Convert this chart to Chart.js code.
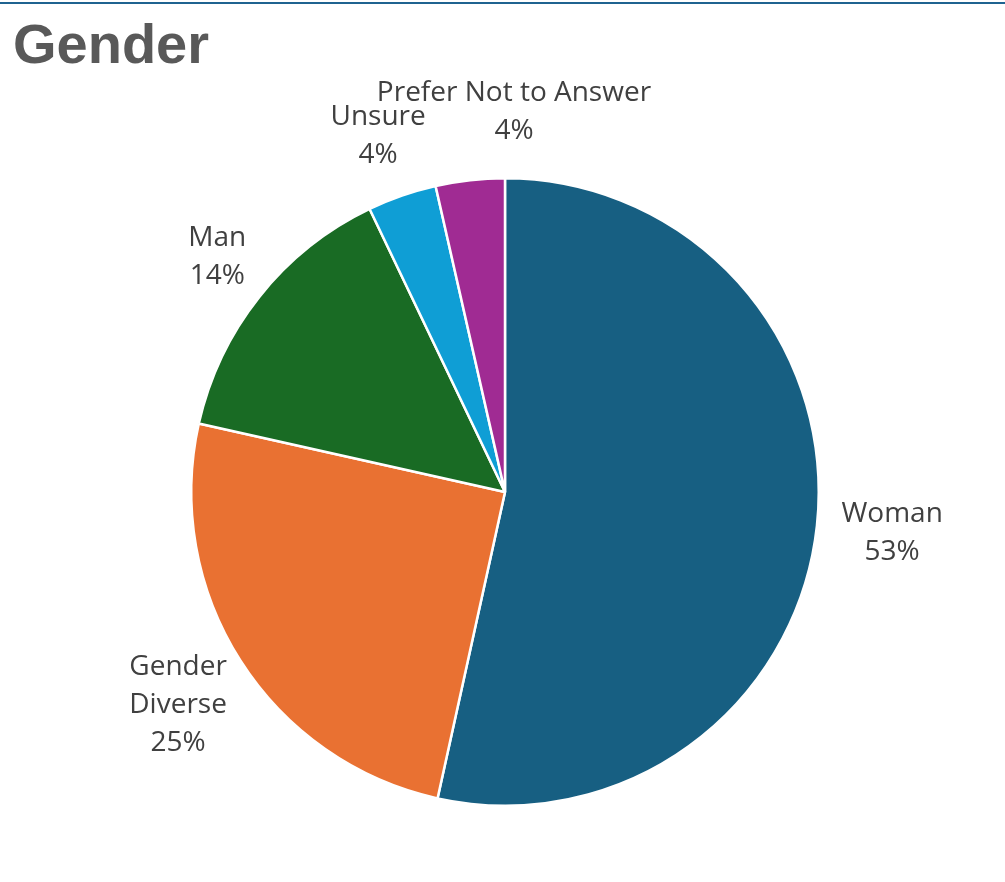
<!DOCTYPE html>
<html>
<head>
<meta charset="utf-8">
<script src="https://cdn.jsdelivr.net/npm/chart.js@4.4.1/dist/chart.umd.min.js"></script>
<style>
  body { margin: 0; background: #fff; }
  canvas { display: block; }
</style>
</head>
<body>
<canvas id="gender" width="1005" height="882"></canvas>
<script>
// slices, clockwise from 12 o'clock
const categories = ['Woman', ['Gender', 'Diverse'], 'Man', 'Unsure', 'Prefer Not to Answer'];
const shares = [53.45, 25.05, 14.4, 3.55, 3.55];
const colors = ['#175f82', '#e97132', '#196b24', '#0f9ed5', '#a02b93'];

// header: thin rule on top + chart title
const header = {
  id: 'header',
  afterDraw(chart) {
    const c = chart.ctx;
    c.save();
    c.fillStyle = '#1f6390';
    c.fillRect(0, 2, chart.width, 2);
    c.font = 'bold 56px "Liberation Sans", Arial, sans-serif';
    c.fillStyle = '#595959';
    c.textBaseline = 'alphabetic';
    c.fillText('Gender', 13, 63);
    c.restore();
  }
};

// data labels outside the slices: category + percent
const outsideLabels = {
  id: 'outsideLabels',
  afterDatasetsDraw(chart) {
    const c = chart.ctx;
    const meta = chart.getDatasetMeta(0);
    const total = shares.reduce((a, b) => a + b, 0);
    const lh = 38;
    c.save();
    c.font = '28px "Open Sans", sans-serif';
    c.fillStyle = '#404040';
    c.textAlign = 'center';
    c.textBaseline = 'middle';
    let prev = null;
    meta.data.forEach((arc, i) => {
      const p = arc.getProps(['x', 'y', 'startAngle', 'endAngle', 'outerRadius'], true);
      const mid = (p.startAngle + p.endAngle) / 2;
      const dx = Math.cos(mid), dy = Math.sin(mid);
      const name = chart.data.labels[i];
      const lines = (Array.isArray(name) ? name : [name]).concat(Math.round(shares[i] / total * 100) + '%');
      const w = Math.max(...lines.map(t => c.measureText(t).width));
      const h = lines.length * lh;
      const ax = p.x + dx * (p.outerRadius + 25);
      const ay = p.y + dy * (p.outerRadius + 25);
      let cx = ax + dx * w / 2;
      let cy = ay + dy * h / 2;
      if (prev) {
        // nudge away from the previous label if they collide
        const ox = Math.min(prev.r, cx + w / 2) - Math.max(prev.l, cx - w / 2);
        const oy = Math.min(prev.b, cy + h / 2) - Math.max(prev.t, cy - h / 2);
        if (ox > 0 && oy > 0) { cx += ox * 0.65; cy -= oy * 0.1; }
      }
      lines.forEach((t, k) => c.fillText(t, cx, cy - h / 2 + lh / 2 + k * lh));
      prev = { l: cx - w / 2, r: cx + w / 2, t: cy - h / 2, b: cy + h / 2 };
    });
    c.restore();
  }
};

new Chart(document.getElementById('gender').getContext('2d'), {
  type: 'pie',
  data: {
    labels: categories,
    datasets: [{
      data: shares,
      backgroundColor: colors,
      borderColor: '#ffffff',
      borderWidth: 2.5
    }]
  },
  options: {
    responsive: false,
    animation: false,
    layout: { padding: { top: 177, bottom: 75, left: 100, right: 95 } },
    plugins: {
      legend: { display: false },
      tooltip: { enabled: false }
    }
  },
  plugins: [header, outsideLabels]
});
</script>
</body>
</html>
